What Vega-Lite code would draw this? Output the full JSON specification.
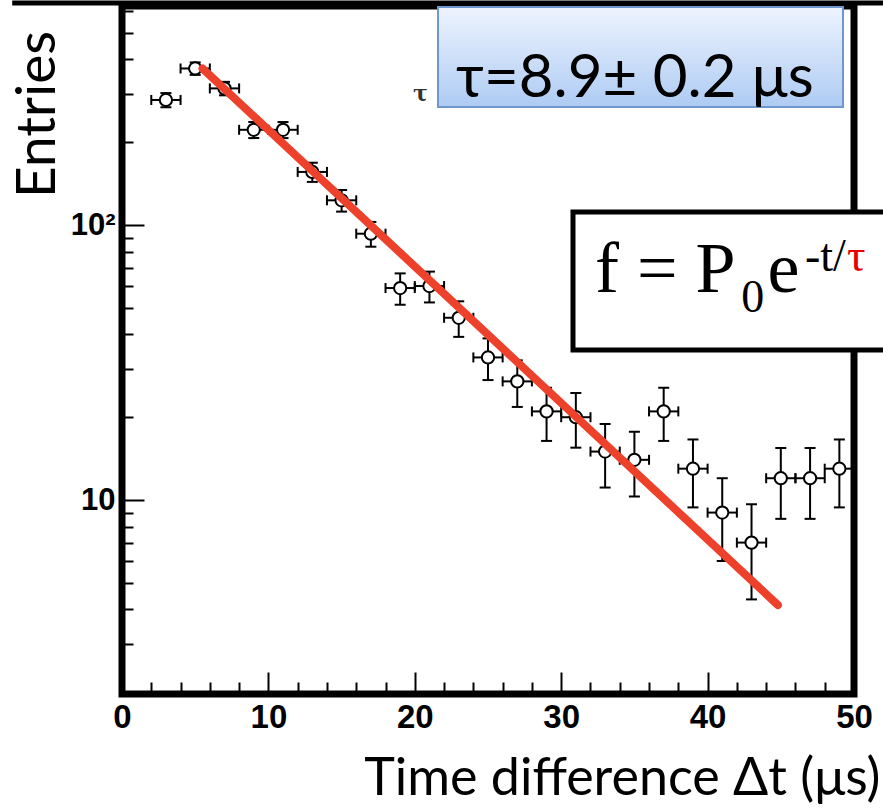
{
  "$schema": "https://vega.github.io/schema/vega-lite/v6.json",
  "width": 732,
  "height": 688,
  "autosize": "none",
  "padding": {"left": 122, "top": 6, "right": 29, "bottom": 114},
  "background": "white",
  "config": {
    "view": {"stroke": "black", "strokeWidth": 7},
    "axis": {"grid": false, "domain": false, "tickColor": "black", "tickWidth": 2, "labelColor": "black", "labelFont": "Liberation Sans", "labelFontWeight": "bold", "labelOverlap": false, "labelFlush": false, "titleColor": "black", "titleFont": "Lato", "titleFontWeight": "normal"},
    "axisX": {"tickSize": -22, "labelPadding": 29, "labelFontSize": 33, "tickCount": 50},
    "axisY": {"tickSize": -22, "labelPadding": 29, "labelFontSize": 31}
  },
  "datasets": {
    "bins": [
      {"t": 3, "n": 285, "lo": 268.1, "hi": 301.9, "tlo": 2, "thi": 4},
      {"t": 5, "n": 371, "lo": 351.7, "hi": 390.3, "tlo": 4, "thi": 6},
      {"t": 7, "n": 314, "lo": 296.3, "hi": 331.7, "tlo": 6, "thi": 8},
      {"t": 9, "n": 222, "lo": 207.1, "hi": 236.9, "tlo": 8, "thi": 10},
      {"t": 11, "n": 222, "lo": 207.1, "hi": 236.9, "tlo": 10, "thi": 12},
      {"t": 13, "n": 156, "lo": 143.5, "hi": 168.5, "tlo": 12, "thi": 14},
      {"t": 15, "n": 123, "lo": 111.9, "hi": 134.1, "tlo": 14, "thi": 16},
      {"t": 17, "n": 93, "lo": 83.4, "hi": 102.6, "tlo": 16, "thi": 18},
      {"t": 19, "n": 59, "lo": 51.3, "hi": 66.7, "tlo": 18, "thi": 20},
      {"t": 21, "n": 60, "lo": 52.3, "hi": 67.7, "tlo": 20, "thi": 22},
      {"t": 23, "n": 46, "lo": 39.2, "hi": 52.8, "tlo": 22, "thi": 24},
      {"t": 25, "n": 33, "lo": 27.3, "hi": 38.7, "tlo": 24, "thi": 26},
      {"t": 27, "n": 27, "lo": 21.8, "hi": 32.2, "tlo": 26, "thi": 28},
      {"t": 29, "n": 21, "lo": 16.4, "hi": 25.6, "tlo": 28, "thi": 30},
      {"t": 31, "n": 20, "lo": 15.5, "hi": 24.5, "tlo": 30, "thi": 32},
      {"t": 33, "n": 15, "lo": 11.1, "hi": 18.9, "tlo": 32, "thi": 34},
      {"t": 35, "n": 14, "lo": 10.3, "hi": 17.7, "tlo": 34, "thi": 36},
      {"t": 37, "n": 21, "lo": 16.4, "hi": 25.6, "tlo": 36, "thi": 38},
      {"t": 39, "n": 13, "lo": 9.4, "hi": 16.6, "tlo": 38, "thi": 40},
      {"t": 41, "n": 9, "lo": 6, "hi": 12, "tlo": 40, "thi": 42},
      {"t": 43, "n": 7, "lo": 4.35, "hi": 9.65, "tlo": 42, "thi": 44},
      {"t": 45, "n": 12, "lo": 8.54, "hi": 15.46, "tlo": 44, "thi": 46},
      {"t": 47, "n": 12, "lo": 8.54, "hi": 15.46, "tlo": 46, "thi": 48},
      {"t": 49, "n": 13, "lo": 9.4, "hi": 16.6, "tlo": 48, "thi": 50}
    ],
    "fit": [
      {"t": 5.5, "f": 371},
      {"t": 44.8, "f": 4.15}
    ],
    "one": [{}]
  },
  "layer": [
    {
      "data": {"name": "bins"},
      "mark": {"type": "rule", "strokeWidth": 2, "color": "black"},
      "encoding": {
        "x": {"field": "tlo", "type": "quantitative", "scale": {"domain": [0, 50], "nice": false, "zero": false},
          "axis": {"values": [0,1,2,3,4,5,6,7,8,9,10,11,12,13,14,15,16,17,18,19,20,21,22,23,24,25,26,27,28,29,30,31,32,33,34,35,36,37,38,39,40,41,42,43,44,45,46,47,48,49,50], "tickCount": 50, "title": "Time difference Δt (μs)", "titleFontSize": 52, "titleAlign": "right", "titleX": 758, "titleY": 100, "titleBaseline": "alphabetic", "labelExpr": "datum.value % 5 === 0 ? datum.label : ''", "tickDash": {"condition": {"test": "datum.value % 5 !== 0", "value": [12, 40]}, "value": [30, 0]}}},
        "x2": {"field": "thi"},
        "y": {"field": "n", "type": "quantitative", "scale": {"type": "log", "domain": [1.97, 626], "nice": false},
          "axis": {"values": [3,4,5,6,7,8,9,10,20,30,40,50,60,70,80,90,100,200,300,400,500,600], "title": "Entries", "titleFontSize": 55, "titleAngle": 270, "titleX": -68, "titleY": 108, "titleAlign": "center", "titleBaseline": "alphabetic", "labelExpr": "datum.value === 100 ? '10²' : (datum.value === 10 ? '10' : '')", "tickDash": {"condition": {"test": "datum.value !== 10 && datum.value !== 100", "value": [11, 40]}, "value": [30, 0]}}}
      }
    },
    {
      "data": {"name": "bins"},
      "mark": {"type": "rule", "strokeWidth": 2, "color": "black"},
      "encoding": {
        "x": {"field": "t", "type": "quantitative",
          "axis": {"values": [0,1,2,3,4,5,6,7,8,9,10,11,12,13,14,15,16,17,18,19,20,21,22,23,24,25,26,27,28,29,30,31,32,33,34,35,36,37,38,39,40,41,42,43,44,45,46,47,48,49,50], "tickCount": 50, "title": "Time difference Δt (μs)", "titleFontSize": 52, "titleAlign": "right", "titleX": 758, "titleY": 100, "titleBaseline": "alphabetic", "labelExpr": "datum.value % 5 === 0 ? datum.label : ''", "tickDash": {"condition": {"test": "datum.value % 5 !== 0", "value": [12, 40]}, "value": [30, 0]}}},
        "y": {"field": "lo", "type": "quantitative",
          "axis": {"values": [3,4,5,6,7,8,9,10,20,30,40,50,60,70,80,90,100,200,300,400,500,600], "title": "Entries", "titleFontSize": 55, "titleAngle": 270, "titleX": -68, "titleY": 108, "titleAlign": "center", "titleBaseline": "alphabetic", "labelExpr": "datum.value === 100 ? '10²' : (datum.value === 10 ? '10' : '')", "tickDash": {"condition": {"test": "datum.value !== 10 && datum.value !== 100", "value": [11, 40]}, "value": [30, 0]}}},
        "y2": {"field": "hi"}
      }
    },
    {
      "data": {"name": "bins"},
      "mark": {"type": "tick", "orient": "horizontal", "size": 11, "thickness": 2, "color": "black", "opacity": 1},
      "encoding": {
        "x": {"field": "t", "type": "quantitative"},
        "y": {"field": "lo", "type": "quantitative"}
      }
    },
    {
      "data": {"name": "bins"},
      "mark": {"type": "tick", "orient": "horizontal", "size": 11, "thickness": 2, "color": "black", "opacity": 1},
      "encoding": {
        "x": {"field": "t", "type": "quantitative"},
        "y": {"field": "hi", "type": "quantitative"}
      }
    },
    {
      "data": {"name": "bins"},
      "mark": {"type": "tick", "orient": "vertical", "size": 10, "thickness": 2, "color": "black", "opacity": 1},
      "encoding": {
        "x": {"field": "tlo", "type": "quantitative"},
        "y": {"field": "n", "type": "quantitative"}
      }
    },
    {
      "data": {"name": "bins"},
      "mark": {"type": "tick", "orient": "vertical", "size": 10, "thickness": 2, "color": "black", "opacity": 1},
      "encoding": {
        "x": {"field": "thi", "type": "quantitative"},
        "y": {"field": "n", "type": "quantitative"}
      }
    },
    {
      "data": {"name": "bins"},
      "mark": {"type": "point", "shape": "circle", "filled": false, "fill": "white", "fillOpacity": 1, "stroke": "black", "strokeWidth": 2, "size": 150, "opacity": 1},
      "encoding": {
        "x": {"field": "t", "type": "quantitative"},
        "y": {"field": "n", "type": "quantitative"}
      }
    },
    {
      "data": {"name": "fit"},
      "mark": {"type": "line", "color": "#ed412b", "strokeWidth": 8, "strokeCap": "round"},
      "encoding": {
        "x": {"field": "t", "type": "quantitative"},
        "y": {"field": "f", "type": "quantitative"}
      }
    },
    {
      "data": {"name": "one"},
      "mark": {"type": "rule", "strokeWidth": 5, "color": "black"},
      "encoding": {
        "x": {"datum": -7.5},
        "x2": {"datum": 52.2},
        "y": {"datum": 641.8}
      }
    },
    {
      "data": {"name": "one"},
      "mark": {"type": "text", "text": "τ", "font": "DejaVu Serif", "fontSize": 22, "fontWeight": "bold", "color": "#333333", "align": "left", "baseline": "alphabetic"},
      "encoding": {
        "x": {"datum": 19.88},
        "y": {"datum": 282.4}
      }
    },
    {
      "data": {"name": "one"},
      "mark": {"type": "rect", "fill": "#9a9a9a", "opacity": 0.55, "xOffset": 4, "yOffset": 5},
      "encoding": {
        "x": {"datum": 21.585}, "x2": {"datum": 49.249},
        "y": {"datum": 620.4}, "y2": {"datum": 268.6}
      }
    },
    {
      "data": {"name": "one"},
      "mark": {
        "type": "rect",
        "fill": {"gradient": "linear", "x1": 0, "y1": 0, "x2": 0, "y2": 1, "stops": [{"offset": 0, "color": "#eef4fe"}, {"offset": 1, "color": "#aecbf3"}]},
        "stroke": "#6f97cf", "strokeWidth": 2
      },
      "encoding": {
        "x": {"datum": 21.585}, "x2": {"datum": 49.249},
        "y": {"datum": 620.4}, "y2": {"datum": 268.6}
      }
    },
    {
      "data": {"name": "one"},
      "mark": {"type": "text", "text": "τ=8.9± 0.2 μs", "font": "Lato", "fontSize": 60, "color": "black", "align": "left", "baseline": "alphabetic"},
      "encoding": {
        "x": {"datum": 22.81},
        "y": {"datum": 292.1}
      }
    },
    {
      "data": {"name": "one"},
      "mark": {"type": "rect", "fill": "#9a9a9a", "opacity": 0.55, "xOffset": 4, "yOffset": 5},
      "encoding": {
        "x": {"datum": 30.806}, "x2": {"datum": 53},
        "y": {"datum": 111.5}, "y2": {"datum": 35.1}
      }
    },
    {
      "data": {"name": "one"},
      "mark": {"type": "rect", "fill": "white", "stroke": "black", "strokeWidth": 5},
      "encoding": {
        "x": {"datum": 30.806}, "x2": {"datum": 53},
        "y": {"datum": 111.5}, "y2": {"datum": 35.1}
      }
    },
    {
      "data": {"name": "one"},
      "mark": {"type": "text", "text": "f = P", "font": "Liberation Serif", "fontSize": 72, "color": "black", "align": "left", "baseline": "alphabetic"},
      "encoding": {"x": {"datum": 32.309}, "y": {"datum": 57.07}}
    },
    {
      "data": {"name": "one"},
      "mark": {"type": "text", "text": "0", "font": "Liberation Serif", "fontSize": 46, "color": "black", "align": "left", "baseline": "alphabetic"},
      "encoding": {"x": {"datum": 42.3}, "y": {"datum": 48.27}}
    },
    {
      "data": {"name": "one"},
      "mark": {"type": "text", "text": "e", "font": "Liberation Serif", "fontSize": 72, "color": "black", "align": "left", "baseline": "alphabetic"},
      "encoding": {"x": {"datum": 44.1}, "y": {"datum": 57.07}}
    },
    {
      "data": {"name": "one"},
      "mark": {"type": "text", "text": "-t/", "font": "Liberation Serif", "fontSize": 46, "color": "black", "align": "left", "baseline": "alphabetic"},
      "encoding": {"x": {"datum": 46.653}, "y": {"datum": 68.03}}
    },
    {
      "data": {"name": "one"},
      "mark": {"type": "text", "text": "τ", "font": "Liberation Serif", "fontSize": 46, "color": "#e60000", "align": "left", "baseline": "alphabetic"},
      "encoding": {"x": {"datum": 49.52}, "y": {"datum": 68.03}}
    }
  ]
}
